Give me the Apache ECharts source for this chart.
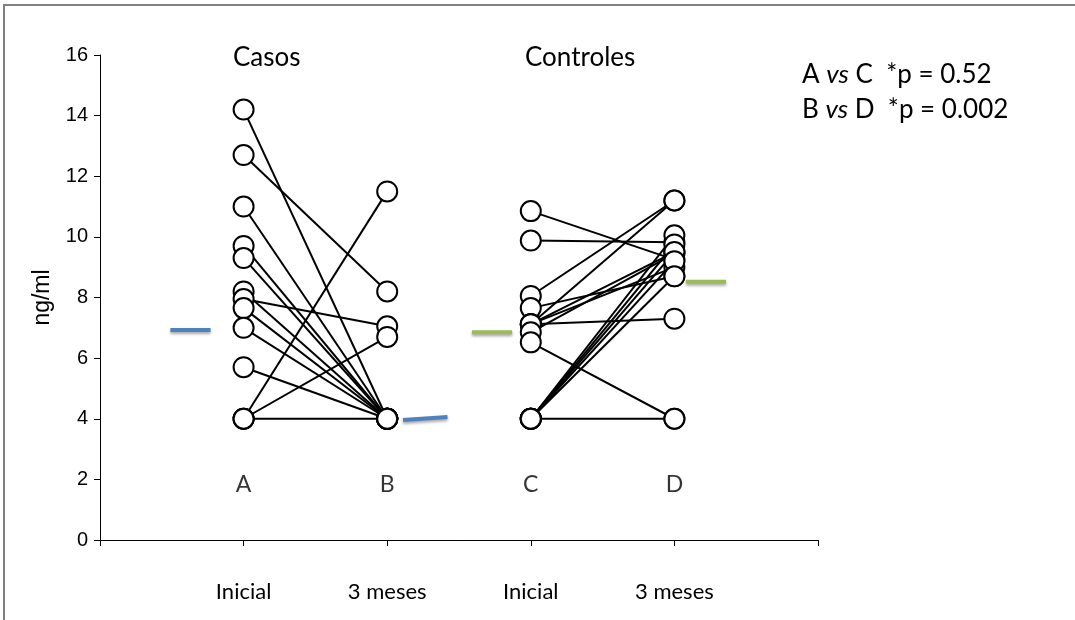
<!DOCTYPE html>
<html>
<head>
<meta charset="utf-8">
<script src="https://cdn.jsdelivr.net/npm/echarts@6/dist/echarts.min.js"></script>
<style>html,body{margin:0;padding:0;background:#fff}#c{width:1075px;height:620px}</style>
</head>
<body>
<div id="c"></div>
<script>
// ---- data ----
const groupTitles = ['Casos', 'Controles'];
const pointLetters = ['A', 'B', 'C', 'D'];
const timeLabels = ['Inicial', '3 meses', 'Inicial', '3 meses'];
const yTicks = [0, 2, 4, 6, 8, 10, 12, 14, 16];
const casosInicial = [14.2, 12.7, 11.0, 9.7, 9.3, 8.2, 7.95, 7.65, 7.0, 5.7, 4, 4, 4];
const casos3m      = [4, 8.2, 4, 4, 4, 4, 7.05, 4, 4, 4, 11.5, 6.7, 4];
const controlesInicial = [10.85, 9.88, 8.05, 7.65, 7.12, 7.12, 7.12, 7.12, 6.85, 6.52, 4, 4, 4, 4, 4, 4];
const controles3m      = [9.25, 9.82, 11.2, 8.7, 11.2, 9.5, 9.0, 7.3, 9.45, 4, 10.05, 9.75, 9.5, 9.2, 8.7, 4];
const casosMeanLeft = [6.93, 6.93];      // marker before A (start, end)
const casosMeanRight = [3.96, 4.06];     // marker after B
const controlesMeanLeft = [6.85, 6.85];  // marker before C
const controlesMeanRight = [8.52, 8.52]; // marker after D
const pText = [['A', 'C', '0.52'], ['B', 'D', '0.002']];

// ---- build ----
const series = [];
function pairs(a, b, x0, x1) {
  a.forEach((v, i) => {
    series.push({
      type: 'line', data: [[x0, v], [x1, b[i]]], showSymbol: false, symbol: 'none',
      lineStyle: { color: '#000', width: 2 }, silent: true, z: 2, animation: false
    });
  });
}
pairs(casosInicial, casos3m, 1, 2);
pairs(controlesInicial, controles3m, 3, 4);

const pts = [];
casosInicial.forEach(v => pts.push([1, v]));
casos3m.forEach(v => pts.push([2, v]));
controlesInicial.forEach(v => pts.push([3, v]));
controles3m.forEach(v => pts.push([4, v]));
series.push({
  type: 'scatter', data: pts, symbol: 'circle', symbolSize: 20, z: 5, animation: false,
  itemStyle: { color: '#fff', borderColor: '#000', borderWidth: 2, opacity: 1 }
});

function meanBar(vals, x0, x1, color) {
  series.push({
    type: 'line', data: [[x0, vals[0]], [x1, vals[1]]], symbol: 'none', z: 3, animation: false,
    lineStyle: { color: color, width: 4, cap: 'butt', shadowColor: 'rgba(0,0,0,0.35)', shadowBlur: 3, shadowOffsetY: 2 }
  });
}
const blue = '#4F81BD', green = '#9BBB59';
meanBar(casosMeanLeft, 0.49, 0.77, blue);
meanBar(casosMeanRight, 2.11, 2.42, blue);
meanBar(controlesMeanLeft, 2.59, 2.87, green);
meanBar(controlesMeanRight, 4.08, 4.36, green);

// letters A-D
series.push({
  type: 'scatter', symbolSize: 0, z: 4, animation: false, silent: true,
  data: pointLetters.map((l, i) => ({ value: [i + 1, 1.82], name: l })),
  label: { show: true, position: 'inside', formatter: p => p.name, color: '#000', fontSize: 23, fontFamily: 'Lato' }
});

const rich = { i: { fontStyle: 'italic', fontSize: 26, fontFamily: 'Lato', fill: '#000' } };
const chart = echarts.init(document.getElementById('c'), null, { renderer: 'canvas' });
chart.setOption({
  backgroundColor: '#fff',
  animation: false,
  grid: { left: 100, right: 257, top: 55, bottom: 80 },
  xAxis: {
    type: 'value', min: 0, max: 5, interval: 1,
    axisLine: { lineStyle: { color: '#000', width: 1 } },
    axisTick: { show: true, length: 6, lineStyle: { color: '#000' } },
    splitLine: { show: false },
    axisLabel: {
      margin: 41, fontSize: 22, color: '#000', fontFamily: 'Lato',
      formatter: v => (v >= 1 && v <= 4) ? timeLabels[v - 1] : ''
    }
  },
  yAxis: {
    type: 'value', min: yTicks[0], max: yTicks[yTicks.length - 1], interval: 2,
    name: 'ng/ml', nameLocation: 'middle', nameGap: 46, nameRotate: 90,
    nameTextStyle: { fontSize: 23, color: '#000', fontFamily: 'Liberation Sans' },
    axisLine: { show: true, lineStyle: { color: '#000', width: 1 } },
    axisTick: { show: true, length: 6, lineStyle: { color: '#000' } },
    splitLine: { show: false },
    axisLabel: { fontSize: 20, color: '#000', fontFamily: 'Liberation Sans', margin: 12 }
  },
  graphic: [
    { type: 'rect', shape: { x: 4, y: 5, width: 1100, height: 700 }, style: { fill: 'none', stroke: '#808080', lineWidth: 2 }, silent: true },
    { type: 'text', left: 233, top: 45, style: { text: groupTitles[0], fontSize: 26, fontFamily: 'Lato', fill: '#000' } },
    { type: 'text', left: 525, top: 45, style: { text: groupTitles[1], fontSize: 26, fontFamily: 'Lato', fill: '#000' } },
    { type: 'text', left: 802, top: 62, style: {
        text: pText[0][0] + ' {i|vs} ' + pText[0][1] + '  *p = ' + pText[0][2],
        fontSize: 26, fontFamily: 'Lato', fill: '#000', rich: rich } },
    { type: 'text', left: 802, top: 97, style: {
        text: pText[1][0] + ' {i|vs} ' + pText[1][1] + '  *p = ' + pText[1][2],
        fontSize: 26, fontFamily: 'Lato', fill: '#000', rich: rich } }
  ],
  series: series
});
</script>
</body>
</html>
